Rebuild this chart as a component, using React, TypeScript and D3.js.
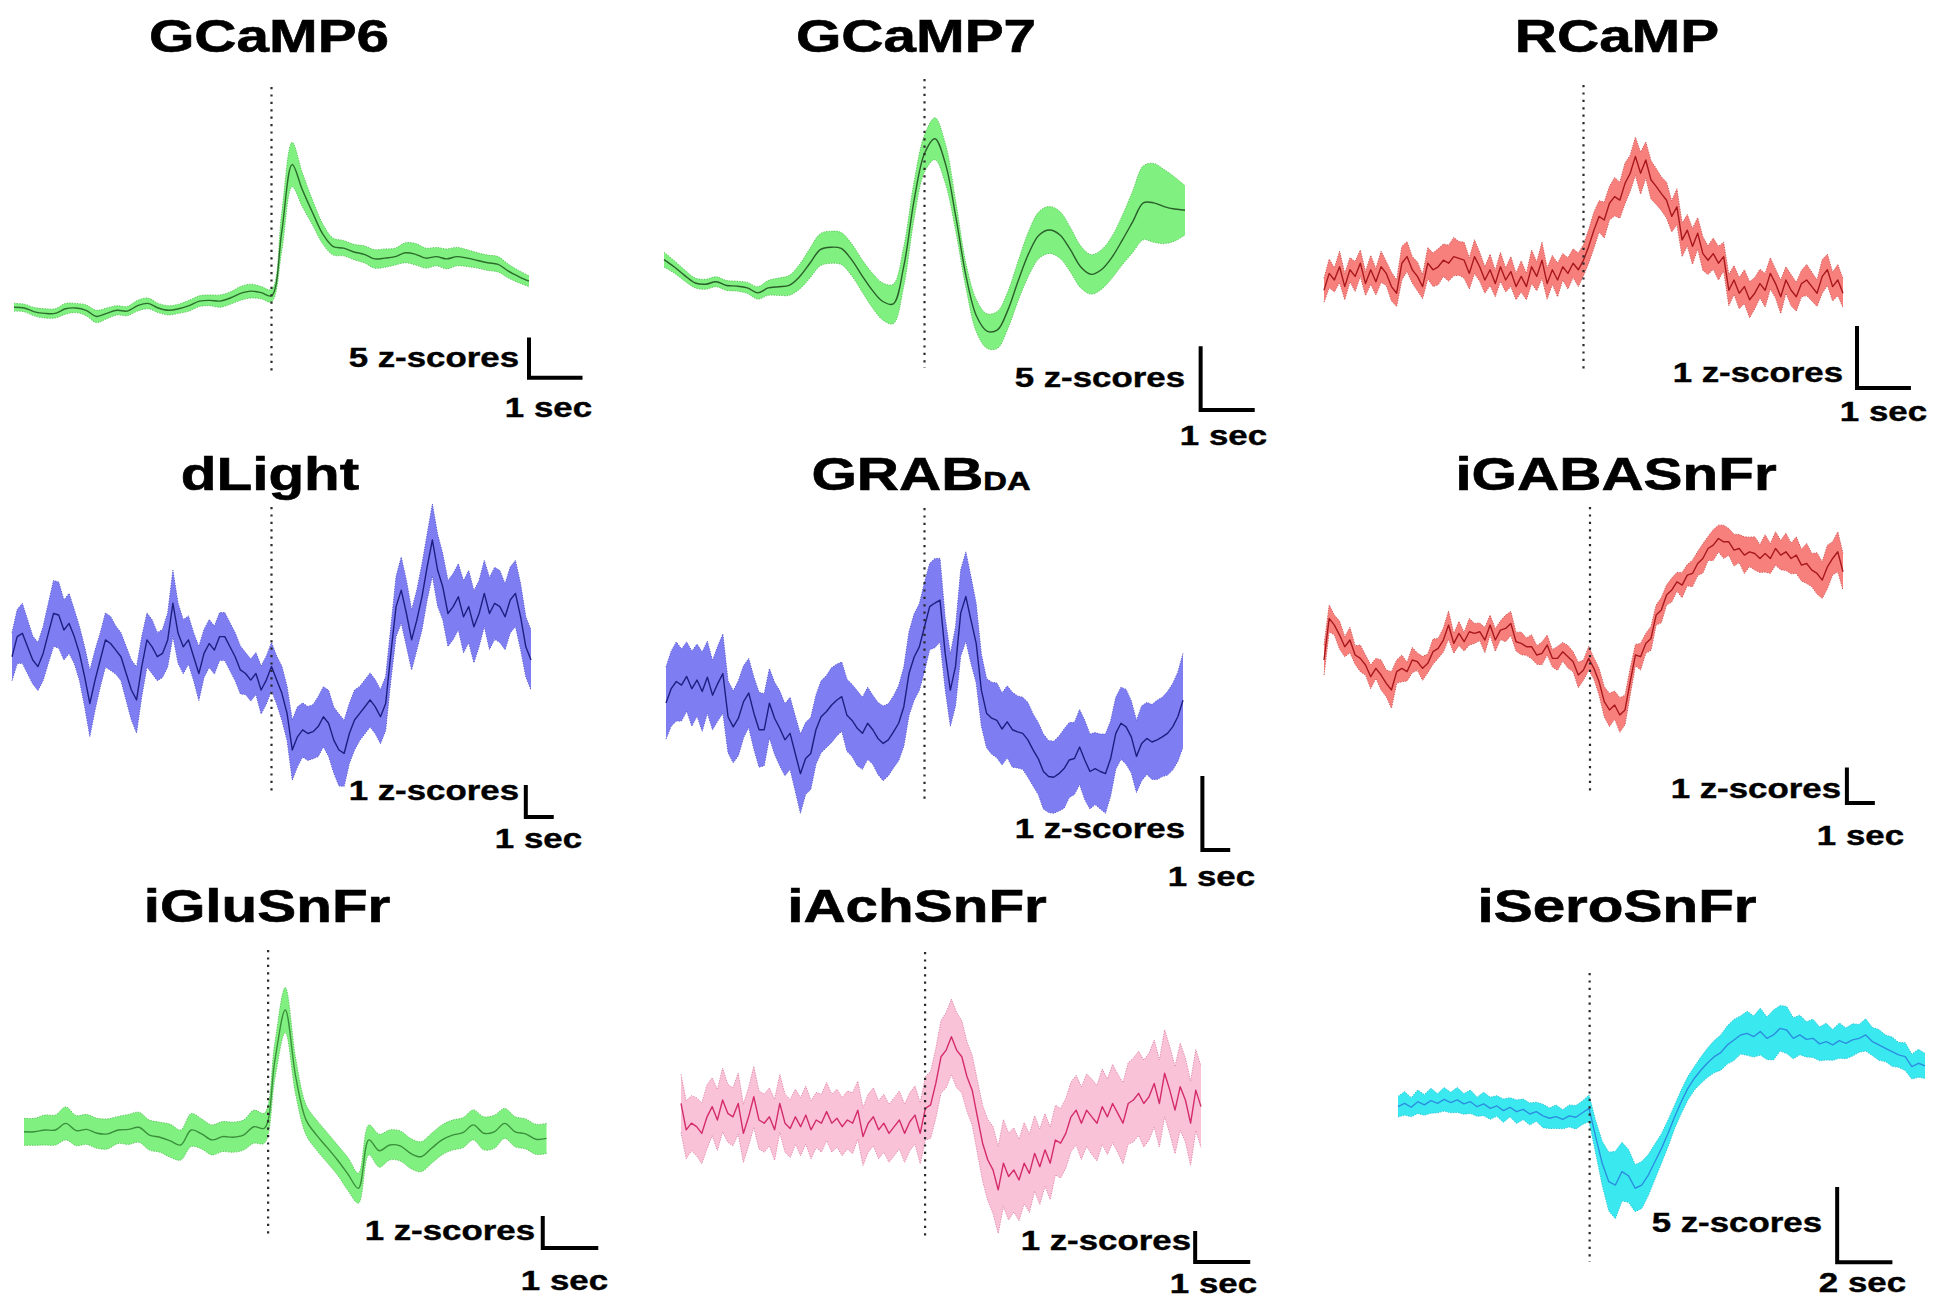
import React from 'react';
import * as d3 from 'd3';

// ---------------- DATA (z-scores, uniformly sampled over each panel's time window) ----------------
const TITLES = ['GCaMP6', 'GCaMP7', 'RCaMP', 'dLight', 'GRAB', 'iGABASnFr', 'iGluSnFr', 'iAchSnFr', 'iSeroSnFr'];
const TITLE_SUBSCRIPTS = ['', '', '', '', 'DA', '', '', '', ''];
const Z_BAR_VALUES = [5, 5, 1, 1, 1, 1, 1, 1, 5];
const T_BAR_VALUES = [1, 1, 1, 1, 1, 1, 1, 1, 2];
const TIME_WINDOWS: [number, number][] = [
  [-5, 5], [-5, 5], [-5, 5],
  [-10, 10], [-10, 10], [-10.25, 9.75],
  [-4.56, 5.2], [-4.6, 5.2], [-7.2, 12.6],
];

const GCAMP6_MEAN = [0.1, 0, -0.5, -0.7, -0.7, -0.1, 0, -0.3, -1.1, -0.7, -0.3, -0.4, 0.3, 0.6, 0, -0.3, -0.1, 0.3, 0.9, 1.0, 0.9, 1.3, 1.9, 2.2, 2.0, 1.6, 10.0, 18.7, 15.4, 12.4, 9.6, 8.0, 7.8, 7.3, 7.0, 6.4, 6.5, 6.7, 7.2, 7.0, 6.5, 6.7, 6.4, 6.7, 6.5, 6.2, 5.9, 5.7, 4.8, 4.1, 3.5];
const GCAMP6_SEM = [0.5, 0.5, 0.55, 0.6, 0.6, 0.7, 0.6, 0.7, 0.8, 0.7, 0.6, 0.6, 0.7, 0.7, 0.6, 0.6, 0.6, 0.7, 0.7, 0.7, 0.8, 0.8, 0.9, 0.9, 0.8, 0.8, 2.5, 2.9, 2.2, 1.6, 1.3, 1.1, 1.0, 1.0, 1.1, 1.2, 1.2, 1.1, 1.3, 1.4, 1.3, 1.2, 1.3, 1.2, 1.1, 1.0, 1.0, 1.0, 0.9, 0.8, 0.7];

const GCAMP7_MEAN = [2.2, 1.6, 0.9, 0.3, 0.2, 0.4, 0.1, 0.05, -0.1, -0.5, -0.1, 0, 0.1, 0.8, 1.9, 3.0, 3.2, 3.1, 2.2, 0.9, -0.3, -1.2, -1.4, 1.6, 7.0, 10.8, 12.0, 10.0, 5.7, 0.8, -2.4, -3.6, -3.5, -1.9, 0.5, 2.7, 4.2, 4.6, 4.2, 3.0, 1.6, 1.0, 1.4, 2.4, 3.8, 5.3, 6.8, 6.8, 6.5, 6.3, 6.2];
const GCAMP7_SEM = [0.6, 0.5, 0.45, 0.4, 0.4, 0.4, 0.4, 0.4, 0.45, 0.5, 0.6, 0.7, 0.8, 1.0, 1.2, 1.3, 1.3, 1.3, 1.3, 1.3, 1.4, 1.5, 1.6, 1.6, 1.5, 1.5, 1.7, 1.6, 1.2, 1.0, 1.3, 1.4, 1.5, 1.5, 1.6, 1.8, 1.9, 1.9, 1.9, 1.8, 1.7, 1.6, 1.6, 1.7, 2.0, 2.5, 3.0, 3.2, 3.0, 2.6, 2.0];

const RCAMP_MEAN = [
  -0.17, 0.11, 0, 0.22, -0.11, 0.17, 0.06, 0.28, -0.06, 0.17,
  -0.03, 0.22, 0.11, -0.11, -0.22, 0.28, 0.39, 0.17, 0.06, -0.11,
  0.28, 0.17, 0.22, 0.33, 0.28, 0.39, 0.36, 0.33, 0.11, 0.39,
  0.22, 0, 0.17, -0.06, 0.22, 0, 0.14, -0.11, 0.06, -0.11,
  0.22, 0.06, 0.33, -0.06, 0.17, 0, 0.22, 0.11, 0.28, 0.17,
  0.33, 0.56, 0.83, 1.06, 1.0, 1.28, 1.39, 1.33, 1.61, 1.78,
  2.06, 1.78, 2.0, 1.67, 1.56, 1.44, 1.33, 1.06, 1.22, 0.67,
  0.83, 0.56, 0.78, 0.44, 0.33, 0.44, 0.28, 0.39, -0.17, 0,
  -0.22, -0.11, -0.33, -0.22, -0.06, -0.17, 0.11, -0.06, -0.28, 0,
  -0.17, -0.28, -0.06, 0, -0.11, -0.22, 0.06, 0.17, -0.11, 0, -0.22];
const RCAMP_SEM = [
  0.2, 0.24, 0.2, 0.26, 0.22, 0.2, 0.25, 0.22, 0.2, 0.24,
  0.22, 0.26, 0.2, 0.24, 0.22, 0.28, 0.25, 0.22, 0.24, 0.2,
  0.26, 0.28, 0.3, 0.27, 0.3, 0.32, 0.28, 0.3, 0.26, 0.28,
  0.24, 0.22, 0.26, 0.22, 0.24, 0.2, 0.25, 0.22, 0.26, 0.22,
  0.28, 0.24, 0.3, 0.26, 0.24, 0.28, 0.22, 0.26, 0.24, 0.28,
  0.26, 0.28, 0.3, 0.26, 0.3, 0.28, 0.32, 0.3, 0.34, 0.3,
  0.32, 0.35, 0.3, 0.32, 0.3, 0.28, 0.3, 0.26, 0.3, 0.28,
  0.26, 0.3, 0.26, 0.28, 0.24, 0.26, 0.28, 0.24, 0.26, 0.24,
  0.26, 0.28, 0.3, 0.26, 0.24, 0.28, 0.26, 0.24, 0.28, 0.22,
  0.26, 0.24, 0.22, 0.26, 0.24, 0.22, 0.28, 0.26, 0.24, 0.26, 0.24];

const DLIGHT_MEAN = [
  0, 0.67, 0.78, 0.33, -0.11, -0.33, 0.11, 0.78, 1.44, 1.39,
  0.89, 1.11, 0.67, 0.11, -0.67, -1.56, -0.78, -0.11, 0.56, 0.44,
  0.22, 0, -0.56, -1.11, -1.44, -0.33, 0.56, 0.33, 0, 0.11,
  0.56, 1.78, 0.78, 0.33, 0.56, 0, -0.56, 0.11, 0.44, 0.22,
  0.67, 0.67, 0.33, 0, -0.44, -0.56, -0.78, -0.56, -1.11, -0.78,
  -0.33, -0.78, -1.22, -1.89, -3.11, -2.67, -2.44, -2.56, -2.5, -2.33,
  -2.0, -2.22, -2.78, -3.11, -3.22, -2.56, -2.11, -1.89, -1.67, -1.44,
  -1.67, -2.0, -1.56, 0.11, 1.67, 2.22, 1.44, 0.56, 1.22, 2.0,
  3.0, 3.89, 2.89, 2.33, 1.44, 1.67, 2.0, 1.33, 1.67, 1.0,
  1.44, 2.11, 1.44, 1.78, 1.67, 1.33, 1.89, 2.11, 1.33, 0.33, -0.11];
const DLIGHT_SEM = [
  0.8, 0.9, 1.0, 0.9, 0.8, 0.8, 0.9, 1.0, 1.1, 1.1,
  1.0, 1.0, 0.9, 0.9, 1.0, 1.1, 1.0, 0.9, 0.9, 0.9,
  0.8, 0.8, 0.9, 1.0, 1.1, 1.0, 0.9, 0.9, 0.8, 0.8,
  0.9, 1.1, 1.0, 0.9, 0.8, 0.8, 0.9, 0.8, 0.8, 0.8,
  0.8, 0.8, 0.8, 0.8, 0.8, 0.7, 0.7, 0.7, 0.8, 0.8,
  0.8, 0.8, 0.9, 0.9, 1.0, 1.0, 0.9, 0.9, 0.9, 1.0,
  1.0, 1.1, 1.1, 1.2, 1.1, 1.0, 1.0, 0.9, 0.9, 0.9,
  0.9, 0.9, 0.9, 0.9, 1.0, 1.1, 1.1, 1.0, 1.0, 1.1,
  1.1, 1.2, 1.2, 1.1, 1.1, 1.1, 1.1, 1.2, 1.2, 1.2,
  1.1, 1.1, 1.2, 1.2, 1.2, 1.1, 1.1, 1.1, 1.1, 1.0, 1.0];

const GRAB_MEAN = [
  0.05, 0.25, 0.35, 0.3, 0.42, 0.25, 0.37, 0.21, 0.41, 0.16,
  0.32, 0.46, -0.14, -0.28, -0.16, 0.07, 0.19, -0.09, -0.32, -0.32,
  0.05, -0.16, -0.3, -0.46, -0.37, -0.65, -0.93, -0.72, -0.65, -0.32,
  -0.14, -0.07, 0.02, 0.09, 0.14, -0.12, -0.19, -0.3, -0.37, -0.23,
  -0.32, -0.44, -0.51, -0.46, -0.35, -0.23, 0, 0.46, 0.69, 0.83,
  1.11, 1.39, 1.44, 1.48, 0.74, 0.23, 0.56, 1.3, 1.53, 1.2,
  0.88, 0.23, -0.09, -0.16, -0.19, -0.31, -0.21, -0.32, -0.35, -0.37,
  -0.46, -0.6, -0.72, -0.9, -0.97, -0.98, -0.93, -0.86, -0.74, -0.72,
  -0.56, -0.74, -0.9, -0.86, -0.9, -0.93, -0.72, -0.37, -0.23, -0.28,
  -0.42, -0.69, -0.51, -0.44, -0.49, -0.46, -0.42, -0.37, -0.28, -0.14, 0.09];
const GRAB_SEM = [
  0.5, 0.52, 0.55, 0.5, 0.48, 0.52, 0.5, 0.55, 0.5, 0.48,
  0.52, 0.55, 0.5, 0.5, 0.52, 0.5, 0.48, 0.5, 0.52, 0.5,
  0.48, 0.5, 0.52, 0.5, 0.5, 0.52, 0.55, 0.5, 0.5, 0.48,
  0.5, 0.5, 0.52, 0.5, 0.48, 0.5, 0.5, 0.52, 0.5, 0.5,
  0.48, 0.5, 0.52, 0.5, 0.5, 0.52, 0.55, 0.58, 0.6, 0.6,
  0.62, 0.6, 0.62, 0.58, 0.5, 0.5, 0.55, 0.6, 0.62, 0.6,
  0.55, 0.5, 0.48, 0.5, 0.52, 0.5, 0.5, 0.52, 0.5, 0.5,
  0.52, 0.5, 0.5, 0.52, 0.5, 0.5, 0.52, 0.55, 0.52, 0.5,
  0.52, 0.55, 0.52, 0.5, 0.52, 0.55, 0.52, 0.5, 0.5, 0.52,
  0.5, 0.5, 0.52, 0.5, 0.52, 0.55, 0.55, 0.58, 0.6, 0.62, 0.65];

const IGABA_MEAN = [
  -0.1, 1.15, 0.95, 0.65, 0.3, 0.5, 0.05, -0.05, -0.25, -0.6,
  -0.35, -0.55, -0.8, -1.0, -0.45, -0.35, -0.45, -0.1, -0.15, -0.35,
  -0.2, 0.15, 0.25, 0.5, 0.95, 0.4, 0.7, 0.45, 0.75, 0.7,
  0.75, 0.5, 0.95, 0.5, 0.8, 0.85, 1.0, 0.45, 0.4, 0.3,
  0.3, 0.05, 0.1, 0.35, -0.05, -0.05, 0.15, 0.0, -0.15, -0.55,
  -0.4, -0.05, -0.35, -0.75, -1.35, -1.6, -1.45, -1.75, -1.6, -0.75,
  0.05, 0.0, 0.4, 0.55, 1.25, 1.4, 1.85, 2.0, 2.25, 2.15,
  2.45, 2.5, 2.8, 2.95, 3.25, 3.35, 3.55, 3.45, 3.45, 3.2,
  3.25, 3.05, 3.15, 3.1, 2.95, 3.1, 2.95, 3.25, 3.05, 3.15,
  2.95, 3.05, 2.75, 2.8, 2.6, 2.5, 2.3, 2.7, 2.95, 3.15, 2.55];
const IGABA_SEM = [
  0.45, 0.4, 0.3, 0.42, 0.3, 0.38, 0.28, 0.4, 0.3, 0.36,
  0.3, 0.45, 0.4, 0.55, 0.35, 0.4, 0.28, 0.38, 0.26, 0.36,
  0.28, 0.38, 0.3, 0.36, 0.42, 0.3, 0.36, 0.28, 0.4, 0.3,
  0.26, 0.38, 0.3, 0.34, 0.28, 0.4, 0.36, 0.28, 0.34, 0.26,
  0.36, 0.28, 0.34, 0.3, 0.26, 0.36, 0.28, 0.34, 0.3, 0.38,
  0.3, 0.36, 0.32, 0.4, 0.45, 0.5, 0.42, 0.52, 0.44, 0.4,
  0.32, 0.4, 0.3, 0.36, 0.3, 0.38, 0.3, 0.36, 0.28, 0.38,
  0.32, 0.4, 0.36, 0.44, 0.36, 0.46, 0.4, 0.5, 0.4, 0.48,
  0.42, 0.55, 0.44, 0.5, 0.42, 0.56, 0.45, 0.5, 0.44, 0.56,
  0.46, 0.55, 0.48, 0.6, 0.5, 0.62, 0.55, 0.65, 0.5, 0.6, 0.55];

const IGLU_MEAN = [-0.06, -0.06, 0, 0, 0.22, -0.02, 0.02, -0.11, -0.13, 0, 0.02, 0.09, -0.17, -0.24, -0.36, -0.5, 0, -0.13, -0.33, -0.22, -0.24, -0.17, 0.11, 0.06, 2.3, 4.0, 1.78, 0.33, -0.17, -0.58, -1.0, -1.47, -1.94, -0.33, -0.69, -0.5, -0.53, -0.78, -0.89, -0.61, -0.33, -0.17, -0.09, 0.17, -0.11, -0.06, 0.22, -0.06, -0.13, -0.31, -0.28];
const IGLU_SEM = [0.45, 0.45, 0.5, 0.5, 0.55, 0.5, 0.5, 0.5, 0.5, 0.45, 0.5, 0.5, 0.5, 0.5, 0.55, 0.5, 0.55, 0.5, 0.5, 0.5, 0.5, 0.5, 0.55, 0.5, 0.6, 0.75, 0.6, 0.5, 0.5, 0.5, 0.5, 0.55, 0.5, 0.5, 0.55, 0.5, 0.5, 0.5, 0.5, 0.5, 0.5, 0.5, 0.5, 0.5, 0.55, 0.55, 0.5, 0.5, 0.5, 0.5, 0.5];

const IACH_MEAN = [
  0.57, -0.34, -0.11, -0.23, -0.46, 0.11, 0.46, 0, 0.69, 0.23,
  0.11, 0.57, -0.46, 0.11, 0.8, 0, -0.11, 0.11, -0.34, 0.57,
  -0.11, -0.29, 0.11, -0.23, 0.17, -0.34, 0, -0.11, 0.29, -0.11,
  0.06, -0.23, 0, -0.11, 0.34, -0.57, -0.11, 0.11, -0.34, -0.11,
  -0.46, -0.23, 0, -0.46, -0.06, 0.17, -0.46, 0.4, 0.52, 1.26,
  2.18, 2.41, 2.87, 2.41, 2.18, 1.49, 1.03, 0.11, -0.8, -1.38,
  -1.72, -2.41, -1.49, -1.95, -1.72, -2.07, -1.49, -1.84, -1.15, -1.61,
  -1.03, -1.49, -0.69, -0.8, -0.46, 0.11, 0.34, -0.11, 0.34, 0.11,
  -0.11, 0.46, 0.11, 0.57, 0.23, -0.11, 0.57, 0.69, 0.92, 0.57,
  0.8, 1.26, 0.57, 1.61, 1.03, 0.34, 1.15, 0.69, -0.11, 1.03, 0.46];
const IACH_SEM = [
  1.0, 1.0, 0.95, 1.0, 1.05, 1.1, 1.0, 1.05, 1.1, 1.0,
  1.0, 1.05, 1.0, 1.0, 1.05, 1.0, 1.0, 1.0, 1.05, 1.0,
  1.0, 1.0, 0.95, 1.0, 1.0, 1.0, 0.95, 1.0, 1.0, 1.0,
  1.0, 1.0, 1.0, 1.05, 1.0, 1.0, 1.0, 1.0, 1.0, 1.0,
  1.0, 1.0, 1.0, 1.0, 1.0, 1.0, 1.05, 1.1, 1.15, 1.2,
  1.25, 1.3, 1.3, 1.3, 1.25, 1.2, 1.2, 1.25, 1.3, 1.4,
  1.5, 1.5, 1.5, 1.5, 1.45, 1.4, 1.4, 1.35, 1.3, 1.3,
  1.25, 1.25, 1.2, 1.2, 1.2, 1.2, 1.2, 1.25, 1.25, 1.3,
  1.3, 1.3, 1.3, 1.35, 1.35, 1.4, 1.4, 1.45, 1.45, 1.5,
  1.5, 1.5, 1.5, 1.5, 1.5, 1.5, 1.5, 1.45, 1.45, 1.4, 1.4];

const ISERO_MEAN = [
  0.11, 0.34, 0.07, 0.45, 0.23, 0.52, 0.34, 0.61, 0.39, 0.57,
  0.3, 0.45, 0.11, 0.3, 0, 0.16, -0.16, 0.07, -0.23, -0.07,
  -0.39, -0.23, -0.52, -0.68, -0.57, -0.75, -0.52, -0.61, -0.3, 0,
  -1.93, -3.75, -5.0, -5.23, -4.32, -4.61, -5.45, -5.23, -4.55, -3.64,
  -2.73, -1.7, -0.57, 0.45, 1.36, 2.05, 2.61, 3.11, 3.52, 3.8,
  4.32, 4.66, 5.0, 5.11, 4.89, 5.23, 4.77, 5.0, 5.45, 5.34,
  4.77, 5.0, 4.7, 4.77, 4.39, 4.55, 4.32, 4.61, 4.43, 4.66,
  4.77, 5.0, 4.55, 4.32, 4.09, 3.86, 3.64, 3.52, 2.84, 3.07, 2.89];
const ISERO_SEM = [
  0.7, 0.8, 0.65, 0.8, 0.7, 0.85, 0.65, 0.8, 0.7, 0.85,
  0.7, 0.8, 0.65, 0.8, 0.75, 0.7, 0.8, 0.65, 0.8, 0.7,
  0.75, 0.65, 0.8, 0.7, 0.8, 0.65, 0.75, 0.8, 0.8, 0.9,
  1.1, 1.5, 2.0, 2.3, 2.0, 1.8, 1.6, 1.6, 1.4, 1.2,
  1.0, 0.9, 0.8, 0.8, 0.8, 0.8, 0.9, 1.0, 1.1, 1.2,
  1.3, 1.4, 1.3, 1.5, 1.4, 1.6, 1.45, 1.7, 1.55, 1.6,
  1.4, 1.35, 1.2, 1.3, 1.15, 1.25, 1.05, 1.2, 1.05, 1.1,
  0.95, 1.1, 0.95, 1.05, 0.9, 1.0, 0.85, 0.95, 0.85, 0.95, 0.85];

const MEANS = [GCAMP6_MEAN, GCAMP7_MEAN, RCAMP_MEAN, DLIGHT_MEAN, GRAB_MEAN, IGABA_MEAN, IGLU_MEAN, IACH_MEAN, ISERO_MEAN];
const SEMS = [GCAMP6_SEM, GCAMP7_SEM, RCAMP_SEM, DLIGHT_SEM, GRAB_SEM, IGABA_SEM, IGLU_SEM, IACH_SEM, ISERO_SEM];

// ---------------- LAYOUT & STYLE ----------------
const TITLE_SIZE = 46;
const TITLE_SX = 1.27;
const LABEL_SIZE = 27;
const LABEL_SX = 1.29;
const FONT = '"Liberation Sans", Arial, Helvetica, sans-serif';

const GREEN = { band: '#80f080', edge: '#5cc85c', line: '#2b6e2b' };
const RED = { band: '#f8807c', edge: '#d25a58', line: '#a8181c' };
const BLUE = { band: '#7e7ef2', edge: '#5c5cd6', line: '#1e1e82' };
const PINK = { band: '#f9c2d7', edge: '#e38aac', line: '#d42c6a' };
const CYAN = { band: '#3ae9ef', edge: '#26c6d6', line: '#2c8ee0' };

type Layout = {
  xr: [number, number]; yZero: number; pxPerZ: number;
  ev: [number, number]; title: [number, number];
  sb: [number, number]; zLab: [number, number]; tLab: [number, number];
  colors: { band: string; edge: string; line: string }; smooth: boolean;
};

const LAYOUT: Layout[] = [
  { xr: [14, 529], yZero: 308, pxPerZ: 7.67, ev: [87, 375], title: [269, 52], sb: [5.0, -9.1], zLab: [519, 367], tLab: [592, 417], colors: GREEN, smooth: true },
  { xr: [664, 1185], yZero: 286.7, pxPerZ: 12.33, ev: [79, 368], title: [916, 52], sb: [5.3, -10.0], zLab: [1185, 387], tLab: [1267, 445], colors: { ...GREEN, line: '#2a5f2a' }, smooth: true },
  { xr: [1324, 1843], yZero: 280, pxPerZ: 60, ev: [85, 373], title: [1617, 52], sb: [5.27, -1.8], zLab: [1843, 382], tLab: [1927, 421], colors: RED, smooth: false },
  { xr: [12, 531], yZero: 656.7, pxPerZ: 30, ev: [507, 795], title: [270, 490], sb: [9.8, -5.34], zLab: [519, 800], tLab: [582, 848], colors: BLUE, smooth: false },
  { xr: [666, 1183], yZero: 706.7, pxPerZ: 72, ev: [508, 800], title: [921, 490], sb: [10.75, -1.99], zLab: [1185, 838], tLab: [1255, 886], colors: BLUE, smooth: false },
  { xr: [1324, 1843], yZero: 656.7, pxPerZ: 33.3, ev: [507, 795], title: [1616, 490], sb: [9.9, -4.39], zLab: [1841, 798], tLab: [1904, 845], colors: RED, smooth: false },
  { xr: [24, 546.5], yZero: 1130, pxPerZ: 30, ev: [950, 1238], title: [267, 922], sb: [5.13, -3.93], zLab: [535, 1240], tLab: [608, 1290], colors: { ...GREEN, line: '#3a8f3a' }, smooth: true },
  { xr: [681, 1201], yZero: 1120, pxPerZ: 29, ev: [952, 1240], title: [917, 922], sb: [5.09, -4.9], zLab: [1191, 1250], tLab: [1257, 1293], colors: PINK, smooth: false },
  { xr: [1398, 1925], yZero: 1108.3, pxPerZ: 14.67, ev: [973, 1262], title: [1617, 922], sb: [9.3, -10.5], zLab: [1822, 1232], tLab: [1906, 1292], colors: CYAN, smooth: false },
];

function Panel({ idx }: { idx: number }) {
  const L = LAYOUT[idx];
  const mean = MEANS[idx];
  const sem = SEMS[idx];
  const [t0, t1] = TIME_WINDOWS[idx];
  const n = mean.length;
  const times = d3.range(n).map((i) => t0 + (i * (t1 - t0)) / (n - 1));

  const x = d3.scaleLinear().domain([t0, t1]).range(L.xr);
  const y = d3.scaleLinear().domain([0, 1]).range([L.yZero, L.yZero - L.pxPerZ]);
  const curve = L.smooth ? d3.curveCatmullRom.alpha(0.5) : d3.curveLinear;

  const idxs = d3.range(n);
  const area = d3.area<number>().x((i) => x(times[i])).y0((i) => y(mean[i] - sem[i])).y1((i) => y(mean[i] + sem[i])).curve(curve);
  const upper = d3.line<number>().x((i) => x(times[i])).y((i) => y(mean[i] + sem[i])).curve(curve);
  const lower = d3.line<number>().x((i) => x(times[i])).y((i) => y(mean[i] - sem[i])).curve(curve);
  const line = d3.line<number>().x((i) => x(times[i])).y((i) => y(mean[i])).curve(curve);

  const zBar = Z_BAR_VALUES[idx];
  const tBar = T_BAR_VALUES[idx];
  const [sbT, sbZ] = L.sb;
  const sbPath = `M${x(sbT)},${y(sbZ + zBar)}V${y(sbZ)}H${x(sbT + tBar)}`;

  return (
    <g>
      <path d={area(idxs) || ''} fill={L.colors.band} stroke="none" />
      <path d={upper(idxs) || ''} fill="none" stroke={L.colors.edge} strokeWidth={1} strokeDasharray="1.3 1.3" />
      <path d={lower(idxs) || ''} fill="none" stroke={L.colors.edge} strokeWidth={1} strokeDasharray="1.3 1.3" />
      <path d={line(idxs) || ''} fill="none" stroke={L.colors.line} strokeWidth={1.4} strokeLinejoin="round" />
      <line x1={x(0)} x2={x(0)} y1={L.ev[0]} y2={L.ev[1]} stroke="#2a2a2a" strokeWidth={2.2} strokeDasharray="2.2 5.2" />
      <path d={sbPath} fill="none" stroke="#000" strokeWidth={4} strokeLinecap="square" strokeLinejoin="miter" />
      <text transform={`translate(${L.title[0]},${L.title[1]}) scale(${TITLE_SX},1)`} textAnchor="middle" fontFamily={FONT} fontWeight={700} fontSize={TITLE_SIZE} fill="#000" stroke="#000" strokeWidth={0.6}>
        {TITLES[idx]}
        {TITLE_SUBSCRIPTS[idx] ? <tspan fontSize={TITLE_SIZE * 0.56}>{TITLE_SUBSCRIPTS[idx]}</tspan> : null}
      </text>
      <text transform={`translate(${L.zLab[0]},${L.zLab[1]}) scale(${LABEL_SX},1)`} textAnchor="end" fontFamily={FONT} fontWeight={700} fontSize={LABEL_SIZE} fill="#000" stroke="#000" strokeWidth={0.4}>
        {`${zBar} z-scores`}
      </text>
      <text transform={`translate(${L.tLab[0]},${L.tLab[1]}) scale(${LABEL_SX},1)`} textAnchor="end" fontFamily={FONT} fontWeight={700} fontSize={LABEL_SIZE} fill="#000" stroke="#000" strokeWidth={0.4}>
        {`${tBar} sec`}
      </text>
    </g>
  );
}

export default function App() {
  return (
    <svg
      width={1950}
      height={1307}
      viewBox="0 0 1950 1307"
      style={{ position: 'absolute', left: 0, top: 0, display: 'block', background: '#fff' }}
    >
      <rect x={0} y={0} width={1950} height={1307} fill="#fff" />
      {TITLES.map((_, i) => (
        <Panel key={i} idx={i} />
      ))}
    </svg>
  );
}
